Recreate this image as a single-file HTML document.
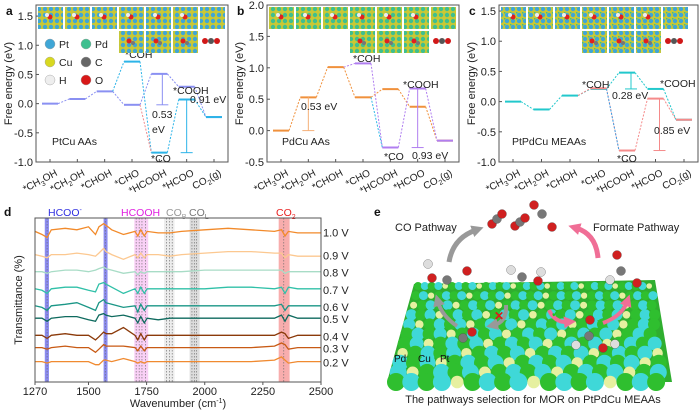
<!DOCTYPE html>
<html><head><meta charset="utf-8"><style>
body{margin:0;background:#fff;}
svg{display:block;font-family:"Liberation Sans",Arial,sans-serif;}
</style></head><body>
<svg id="fig" width="700" height="412" viewBox="0 0 700 412" xmlns="http://www.w3.org/2000/svg">
<defs>
<pattern id="surfPt" width="6" height="6" patternUnits="userSpaceOnUse"><rect width="6" height="6" fill="#c9c834"/><circle cx="3" cy="3" r="2.2" fill="#3fa6d6"/></pattern>
<pattern id="surfPd" width="6" height="6" patternUnits="userSpaceOnUse"><rect width="6" height="6" fill="#c9c834"/><circle cx="3" cy="3" r="2.2" fill="#3fbf8f"/></pattern>
<pattern id="surfMix" width="6" height="6" patternUnits="userSpaceOnUse"><rect width="6" height="6" fill="#c9c834"/><circle cx="3" cy="3" r="2.2" fill="#3fa6d6"/><circle cx="0" cy="0" r="1.6" fill="#3fbf8f"/></pattern>
<marker id="arrG" markerUnits="userSpaceOnUse" markerWidth="12" markerHeight="12" refX="4" refY="6" orient="auto"><path d="M0,0L12,6L0,12z" fill="#999"/></marker>
<marker id="arrP" markerUnits="userSpaceOnUse" markerWidth="12" markerHeight="12" refX="4" refY="6" orient="auto"><path d="M0,0L12,6L0,12z" fill="#f06e96"/></marker>
</defs>
<g id="pa"></g>
<g id="pb"></g>
<g id="pc"></g>
<g id="pd"></g>
<g id="pe"></g>
</svg>
<script>
const NS="http://www.w3.org/2000/svg";
const categories=["CH3OH","CH2OH","CHOH","CHO","HCOOH","HCOO","CO2"];
// Panel a (PtCu AAs)
const aMain=[0,0.08,0.21,-0.02,0.51,0.29,-0.23];
const aAlt=[0.72,-0.84,0.07,-0.23]; // COH, CO, COOH, CO2
const aTicks=[-1.0,-0.5,0.0,0.5,1.0,1.5];
// Panel b (PdCu AAs)
const bMain=[0,0.53,1.01,0.53,0.66,0.38,-0.16];
const bAlt=[1.07,-0.27,0.67,-0.16];
const bTicks=[-0.5,0.0,0.5,1.0,1.5,2.0];
// Panel c (PtPdCu MEAAs)
const cMain=[0,-0.13,0.10,0.21,0.48,0.21,-0.30];
const cAlt=[0.22,-0.81,0.05,-0.30];
const cTicks=[-1.0,-0.5,0.0,0.5,1.0,1.5];
// Panel d spectra
const wn=[1270,1300,1322,1340,1400,1450,1500,1530,1545,1565,1575,1600,1650,1700,1712,1725,1740,1752,1800,1850,1900,2000,2100,2200,2300,2330,2345,2360,2400,2500];
const voltages=["1.0 V","0.9 V","0.8 V","0.7 V","0.6 V","0.5 V","0.4 V","0.3 V","0.2 V"];
const sBase=[92,77,66,55,44,36,25,17,8];
const s10=[0,-2,-4,1,2,1,3,-2,3,5,4,1,-2,0,-3,1,-3,0,-1,-1,0,1,2,1,0,1,-3,0,-1,-1];
const s09=[0,-1,-2,0,0,1,0,-1,1,4,2,0,-3,0,-2,1,-2,0,0,-1,0,1,2,2,1,1,-2,0,-1,-1];
const s08=[0,0,-1,0,1,1,0,1,2,3,2,1,-1,0,-2,0,-1,0,0,0,0,1,1,1,1,1,-1,0,0,0];
const s07=[0,-1,-3,0,1,1,-1,-2,3,4,3,1,-3,0,-3,1,-3,0,0,0,0,0,1,1,0,1,-3,1,0,0];
const s06=[0,-1,-3,0,1,2,-1,-3,2,4,2,1,-1,0,-4,1,-3,0,0,0,0,0,0,0,0,1,-3,0,0,0];
const s05=[0,0,-2,0,1,1,-1,-2,2,3,2,1,2,0,-3,1,-3,0,-1,0,0,0,0,0,0,2,-2,2,0,0];
const s04=[0,0,-2,0,1,0,0,-3,-1,2,1,1,5,0,-3,1,-3,0,0,0,0,0,0,0,0,2,1,-2,0,0];
const s03=[0,0,-1,0,1,0,0,-3,-1,2,1,1,1,0,-2,1,-2,0,0,0,0,0,0,0,1,3,2,-1,0,0];
const s02=[0,0,-1,0,0,0,0,-2,-2,1,1,0,2,0,-1,0,-1,0,0,0,0,0,0,0,1,3,1,-1,0,0];
const spectra=[s10,s09,s08,s07,s06,s05,s04,s03,s02];
const sColors=["#f28a2a","#fcc890","#a8dcc6","#30c0a8","#1a9686","#0e6a5e","#8b3a0a","#c85a14","#f08a30"];

function el(tag,attrs,parent,text){const e=document.createElementNS(NS,tag);for(const k in attrs)e.setAttribute(k,attrs[k]);if(text!==undefined)e.textContent=text;parent.appendChild(e);return e;}

function energyPanel(g,o){
  const L=o.L,R=o.R,T=5,B=162;
  const yS=v=>B-(v-o.ymin)/(o.ymax-o.ymin)*(B-T);
  const xS=i=>L+14+i*(R-L-28)/6;
  const ax=el("rect",{x:L,y:T,width:R-L,height:B-T,fill:"none",stroke:"#555","stroke-width":1},g);
  
  o.ticks.forEach(t=>{const y=yS(t);
    const ln=el("line",{x1:L,x2:L+3,y1:y,y2:y,stroke:"#555"},g);
    
    const tx=el("text",{x:L-3,y:y+4,"text-anchor":"end","font-size":11,fill:"#222"},g,t.toFixed(1));
    });
  const yl=el("text",{x:0,y:0,transform:`translate(${L-24},${(T+B)/2}) rotate(-90)`,"text-anchor":"middle","font-size":11,fill:"#222"},g,"Free energy (eV)");
  
  categories.forEach((c,i)=>{const x=xS(i);
    const tk=el("line",{x1:x,x2:x,y1:B,y2:B-3,stroke:"#555"},g);
    
    const t=el("text",{transform:`translate(${x+8},${B+13}) rotate(-28)`,"text-anchor":"end","font-size":10,fill:"#222"},g);
    
    const m=c.match(/^([A-Z]+)(\d)(.*)$/);
    if(c==="CO2"){t.textContent="";el("tspan",{},t,"CO");el("tspan",{"font-size":7,dy:3},t,"2");el("tspan",{dy:-3},t,"(g)");}
    else if(m){el("tspan",{},t,"*"+m[1]);el("tspan",{"font-size":7,dy:3},t,m[2]);el("tspan",{dy:-3},t,m[3]);}
    else t.textContent="*"+c;});
  const hw=8;
  function level(i,v,col,name){const l=el("line",{x1:xS(i)-hw,x2:xS(i)+hw,y1:yS(v),y2:yS(v),stroke:col,"stroke-width":2},g);
    }
  function conn(i,v,j,w,col){const l=el("line",{x1:xS(i)+hw,x2:xS(j)-hw,y1:yS(v),y2:yS(w),stroke:col,"stroke-width":1,"stroke-dasharray":"2,1.5"},g);
    }
  o.main.forEach((v,i)=>{level(i,v,o.mc,'level-'+categories[i].toLowerCase());if(i>0)conn(i-1,o.main[i-1],i,v,o.mc);});
  const ai=[3,4,5,6];
  conn(2,o.main[2],3,o.alt[0],o.ac);
  o.alt.forEach((v,k)=>{level(ai[k],v,o.ac,'alt-level-'+k);if(k>0)conn(ai[k-1],o.alt[k-1],ai[k],v,o.ac);});
  conn(3,o.main[3],4,o.alt[1],o.xc);
  o.arrows.forEach(a=>{const x=xS(a.i)+a.dx;
    const l=el("line",{x1:x,x2:x,y1:yS(a.from),y2:yS(a.to),stroke:a.c,"stroke-width":1},g);
    
    el("line",{x1:x-6,x2:x+6,y1:yS(a.to),y2:yS(a.to),stroke:a.c,"stroke-width":1},g);
    const t=el("text",{x:a.tx,y:a.ty,"font-size":10.5,fill:"#222"},g,a.label);
    });
  o.labels.forEach(a=>{const t=el("text",{x:a[1],y:a[2],"font-size":10.5,fill:"#222"},g,a[0]);
    });
  const nm=el("text",{x:o.nx,y:145,"font-size":10.5,fill:"#222"},g,o.name);
  
  const pl=el("text",{x:L-30,y:15,"font-size":12,"font-weight":"bold",fill:"#111"},g,o.letter);
  
  for(let i=0;i<7;i++){const r=el("rect",{x:L+2+i*27,y:7,width:25,height:22,fill:`url(#${o.pat})`},g);
    
    if(i<6){el("circle",{cx:L+14+i*27,cy:17,r:2.5,fill:"#e02020"},g);el("circle",{cx:L+11+i*27,cy:15,r:2,fill:"#eee"},g);}}
  for(let i=3;i<6;i++){const r=el("rect",{x:L+2+i*27,y:31,width:25,height:22,fill:`url(#${o.pat})`},g);
    
    el("circle",{cx:L+12+i*27,cy:41,r:2.5,fill:"#e02020"},g);el("circle",{cx:L+16+i*27,cy:43,r:2,fill:"#777"},g);}
  const mx=L+2+6*27+5;
  el("circle",{cx:mx,cy:41,r:3,fill:"#d01818"},g);el("circle",{cx:mx+6,cy:41,r:3,fill:"#555"},g);el("circle",{cx:mx+12,cy:41,r:3,fill:"#d01818"},g);
}

energyPanel(document.getElementById("pa"),{L:36,R:228,ymin:-1.0,ymax:1.69,ticks:aTicks,main:aMain,alt:aAlt,mc:"#8a90f2",ac:"#2cb4e8",xc:"#f08c8c",pat:"surfPt",name:"PtCu AAs",nx:52,letter:"a",
 arrows:[{i:4,dx:3,from:aMain[4],to:aMain[3],c:"#8a90f2",label:"0.53",tx:152,ty:118},{i:5,dx:0,from:aAlt[2],to:aAlt[1],c:"#2cb4e8",label:"0.91 eV",tx:190,ty:103}],
 labels:[["*COH",125,58],["*COOH",173,94],["*CO",151,162],["eV",152,133]]});
energyPanel(document.getElementById("pb"),{L:267,R:459,ymin:-0.5,ymax:2.0,ticks:bTicks,main:bMain,alt:bAlt,mc:"#f0913c",ac:"#b07ef0",xc:"#30b8e8",pat:"surfPd",name:"PdCu AAs",nx:282,letter:"b",
 arrows:[{i:1,dx:0,from:bMain[1],to:bMain[0],c:"#f5b078",label:"0.53 eV",tx:301,ty:110},{i:5,dx:0,from:bAlt[2],to:bAlt[1],c:"#b07ef0",label:"0.93 eV",tx:412,ty:159}],
 labels:[["*COH",353,62],["*COOH",403,88],["*CO",384,160]]});
energyPanel(document.getElementById("pc"),{L:499,R:698,ymin:-1.0,ymax:1.6,ticks:cTicks,main:cMain,alt:cAlt,mc:"#22c8cc",ac:"#f58a8a",xc:"#3aa0e8",pat:"surfMix",name:"PtPdCu MEAAs",nx:512,letter:"c",
 arrows:[{i:4,dx:4,from:cMain[4],to:cMain[3],c:"#22c8cc",label:"0.28 eV",tx:612,ty:99},{i:5,dx:4,from:cAlt[2],to:cAlt[1],c:"#f58a8a",label:"0.85 eV",tx:654,ty:134}],
 labels:[["*COH",582,88],["*COOH",660,87],["*CO",617,162]]});

(function(){const g=document.getElementById("pa");
 const items=[["Pt","#3fa6d6",50,44],["Pd","#3fbf8f",86,44],["Cu","#d8d820",50,62],["C","#666",86,62],["H","#eee",50,80],["O","#d81818",86,80]];
 items.forEach(it=>{const c=el("circle",{cx:it[2],cy:it[3],r:5,fill:it[1],stroke:"#999","stroke-width":0.4},g);
  
  const t=el("text",{x:it[2]+9,y:it[3]+4,"font-size":10.5,fill:"#222"},g,it[0]);
  });})();

(function(){const g=document.getElementById("pd");
 const L=35,R=321,T=218,B=382;
 const xS=w=>L+(w-1270)/(2500-1270)*(R-L);
 const yS=v=>B-8-v*1.55;
 const bands=[[1312,1330,"#5a5ae8",0.7],[1565,1582,"#5a5ae8",0.7],[1697,1757,"#f5b0f0",0.6],[1825,1870,"#e0e0e0",0.6],[1935,1978,"#cfcfcf",0.7],[2318,2365,"#f58a8a",0.7]];
 bands.forEach(b=>{const r=el("rect",{x:xS(b[0]),y:T,width:xS(b[1])-xS(b[0]),height:B-T,fill:b[2],opacity:b[3]},g);
  });
 [1322,1572,1705,1718,1730,1745,1835,1848,1860,1945,1955,1965,2340].forEach(w=>{const l=el("line",{x1:xS(w),x2:xS(w),y1:T,y2:B,stroke:"#666","stroke-width":0.6,"stroke-dasharray":"1.5,1.5"},g);
  });
 spectra.forEach((s,k)=>{const pts=wn.map((w,i)=>xS(w).toFixed(1)+","+yS(sBase[k]+s[i]).toFixed(1)).join(" ");
  const p=el("polyline",{points:pts,fill:"none",stroke:sColors[k],"stroke-width":1.3},g);
  
  const t=el("text",{x:323,y:yS(sBase[k])+5,"font-size":11,fill:"#222"},g,voltages[k]);
  });
 const f=el("rect",{x:L,y:T,width:R-L,height:B-T,fill:"none",stroke:"#555"},g);
 
 [1270,1500,1750,2000,2250,2500].forEach(w=>{el("line",{x1:xS(w),x2:xS(w),y1:B,y2:B+3,stroke:"#555"},g);
  const t=el("text",{x:xS(w),y:B+13,"text-anchor":"middle","font-size":11,fill:"#222"},g,String(w));
  });
 const xt=el("text",{x:(L+R)/2,y:407,"text-anchor":"middle","font-size":11,fill:"#222"},g);
 
 el("tspan",{},xt,"Wavenumber (cm");el("tspan",{"font-size":7,dy:-4},xt,"-1");el("tspan",{dy:4},xt,")");
 const yt=el("text",{transform:`translate(22,${(T+B)/2}) rotate(-90)`,"text-anchor":"middle","font-size":11,fill:"#222"},g,"Transmittance (%)");
 
 const lab=[["HCOO",48,"#3030e0"],["HCOOH",121,"#e020e0"],["CO",166,"#999"],["CO",189,"#777"],["CO",276,"#e82020"]];
 lab.forEach((a,i)=>{const t=el("text",{x:a[1],y:216,"font-size":10.5,fill:a[2]},g,a[0]);
  
  if(i===0)el("tspan",{"font-size":7,dy:-4},t,"-");
  if(i===2)el("tspan",{"font-size":7,dy:3},t,"B");
  if(i===3)el("tspan",{"font-size":7,dy:3},t,"L");
  if(i===4)el("tspan",{"font-size":7,dy:3},t,"2");});
 const pl=el("text",{x:4,y:216,"font-size":12,"font-weight":"bold",fill:"#111"},g,"d");
 
})();

(function(){const g=document.getElementById("pe");
 const pl=el("text",{x:374,y:216,"font-size":12,"font-weight":"bold",fill:"#111"},g,"e");
 
 const bg=el("polygon",{points:"414,284 655,280 672,382 387,382",fill:"#2fae2f"},g);
 
 for(let r=0;r<11;r++){const y=286+r*9.6;const f=r/10;const xl=414-27*f,xr=655+17*f;const rad=4+f*5;const step=rad*1.7;
  let i=0;for(let x=xl+rad;x<xr-rad/2;x+=step,i++){const k=(i+r*2)%5;const col=k===1||k===3?"#3fd8d8":(k===4?"#e6f0a0":"#2fbf2f");
   const c=el("circle",{cx:x,cy:y,r:k===4?rad*0.7:rad,fill:col},g);
   }}
 [["Pd",394,362],["Cu",418,362],["Pt",440,362]].forEach(a=>{const t=el("text",{x:a[1],y:a[2],"font-size":10,fill:"#111"},g,a[0]);
  });
 const mols=[[492,224,"#d02020"],[497,219,"#777"],[502,214,"#d02020"],[515,226,"#d02020"],[520,222,"#777"],[525,218,"#d02020"],[534,205,"#d02020"],[542,214,"#777"],[552,227,"#d02020"],
  [428,264,"#ddd"],[432,278,"#d02020"],[447,280,"#777"],[467,271,"#d02020"],[511,270,"#ddd"],[522,277,"#777"],[538,281,"#d02020"],[541,272,"#ddd"],
  [617,255,"#d02020"],[621,271,"#777"],[610,280,"#ddd"],[637,283,"#d02020"],[463,338,"#777"],[472,332,"#d02020"],[590,320,"#d02020"],[589,336,"#777"],[576,345,"#ddd"],[603,348,"#d02020"],[615,344,"#ddd"]];
 mols.forEach(m=>{const c=el("circle",{cx:m[0],cy:m[1],r:4.5,fill:m[2],stroke:"#444","stroke-width":0.3},g);
  });
 const arrows=[["M449,262 Q453,238 476,230","#999","arrG",5],["M598,258 Q596,234 576,228","#f06e96","arrP",5],["M457,326 Q442,316 438,302","#999","arrG",4],["M506,305 Q507,322 494,325","#999","arrG",4],["M549,310 Q555,323 568,322","#f06e96","arrP",4],["M603,323 Q622,316 627,302","#f06e96","arrP",4]];
 arrows.forEach(a=>{const p=el("path",{d:a[0],fill:"none",stroke:a[1],"stroke-width":a[3],"marker-end":`url(#${a[2]})`},g);
  });
 const x=el("text",{x:494,y:320,"font-size":12,"font-weight":"bold",fill:"#e01818"},g,"✕");
 const ck=el("text",{x:551,y:317,"font-size":11,"font-weight":"bold",fill:"#20c020"},g,"✓");
 const t1=el("text",{x:395,y:231,"font-size":11,fill:"#222"},g,"CO Pathway");
 const t2=el("text",{x:593,y:231,"font-size":11,fill:"#222"},g,"Formate Pathway");
 const cap=el("text",{x:533,y:403,"text-anchor":"middle","font-size":11,fill:"#222"},g,"The pathways selection for MOR on PtPdCu MEAAs");
 
})();
</script>
</body></html>
